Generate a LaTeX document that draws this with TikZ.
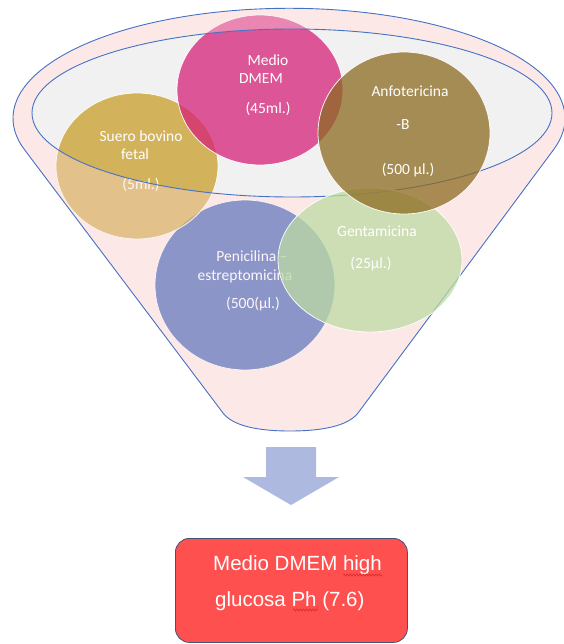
\documentclass[tikz,border=0pt]{standalone}
\usepackage{fontspec}
\newfontfamily\calib{Carlito}
\newfontfamily\arialf{Liberation Sans}
\usetikzlibrary{shapes.geometric,decorations.pathmorphing}
\definecolor{funblue}{RGB}{68,114,196}
\definecolor{funpink}{RGB}{253,232,232}
\definecolor{fungray}{RGB}{241,241,241}
\definecolor{cDmem}{RGB}{213,33,120}
\definecolor{cSuero}{RGB}{200,157,40}
\definecolor{cPen}{RGB}{21,64,166}
\definecolor{cGent}{RGB}{189,219,163}
\definecolor{cAnfo}{RGB}{140,107,33}
\definecolor{arrowblue}{RGB}{173,185,222}
\definecolor{boxred}{RGB}{255,80,80}
\definecolor{boxedge}{RGB}{68,84,120}
\definecolor{spellred}{RGB}{220,40,40}
\begin{document}
\begin{tikzpicture}[x=1pt,y=-1pt,
  bubble/.style={ellipse, inner sep=0pt, outer sep=0pt, draw=white, line width=0.8pt, fill opacity=0.75, draw opacity=0.9},
  lbl/.style={anchor=base, text=white, font=\calib\fontsize{15.5}{18}\selectfont, inner sep=0pt},
  boxlbl/.style={anchor=base west, text=white, font=\arialf\fontsize{20.5}{24}\selectfont, inner sep=0pt},
  rim/.style={draw=funblue, line width=0.9pt},
  spell/.style={draw=spellred, line width=0.6pt, decorate, decoration={snake, amplitude=1.1pt, segment length=3.2pt}}]
\useasboundingbox (0,0) rectangle (563,644);
% funnel base
\fill[funpink] (24,149) arc[start angle=163.8, end angle=376.2, x radius=276, y radius=110]
  -- (358,413) .. controls (348,426) and (322,431) .. (290,431)
  .. controls (258,431) and (233,426) .. (223,413) -- cycle;
\fill[fungray] (292,113) ellipse[x radius=260, y radius=84];
% circles behind the funnel front
\node[bubble, fill=cPen, minimum width=180pt, minimum height=170pt] (pen) at (245,285) {};
\node[lbl] (pen1) at (252,261.5) {Penicilina –};
\node[lbl] (pen2) at (245,280.5) {estreptomicina};
\node[lbl] (pen3) at (253,308.5) {(500(µl.)};
\node[bubble, fill=cSuero, minimum width=162pt, minimum height=146pt] (suero) at (137,166) {};
\node[lbl] (suero1) at (141,141.5) {Suero bovino};
\node[lbl] (suero2) at (135,159.5) {fetal};
\node[lbl] (suero3) at (141,189.5) {(5ml.)};
\node[bubble, fill=cDmem, minimum width=166pt, minimum height=150pt] (dmem) at (260,90) {};
\node[lbl] (dmem1) at (268,65.5) {Medio};
\node[lbl] (dmem2) at (261,83.5) {DMEM};
\node[lbl] (dmem3) at (268,113.5) {(45ml.)};
% funnel front overlay
\fill[funpink, fill opacity=0.35, even odd rule] (24,149) arc[start angle=163.8, end angle=376.2, x radius=276, y radius=110]
  -- (358,413) .. controls (348,426) and (322,431) .. (290,431)
  .. controls (258,431) and (233,426) .. (223,413) -- cycle
  (292,113) ellipse[x radius=260, y radius=84];
\draw[rim] (24,149) arc[start angle=163.8, end angle=376.2, x radius=276, y radius=110]
  -- (358,413) .. controls (348,426) and (322,431) .. (290,431)
  .. controls (258,431) and (233,426) .. (223,413) -- cycle;
\draw[rim] (292,113) ellipse[x radius=260, y radius=84];
% circles in front
\node[bubble, fill=cGent, minimum width=184pt, minimum height=144pt] (gent) at (370,260) {};
\node[lbl] (gent1) at (377,236.5) {Gentamicina};
\node[lbl] (gent2) at (371,268.5) {(25µl.)};
\node[bubble, fill=cAnfo, minimum width=172pt, minimum height=162pt] (anfo) at (404,133) {};
\node[lbl] (anfo1) at (410,96.5) {Anfotericina};
\node[lbl] (anfo2) at (403,129.5) {-B};
\node[lbl] (anfo3) at (408,174.5) {(500 µl.)};
% block arrow
\fill[arrowblue] (266,447) -- (316,447) -- (316,477) -- (339,477) -- (291,505) -- (243,477) -- (266,477) -- cycle;
% result box
\node[draw=boxedge, line width=0.8pt, fill=boxred, rounded corners=14pt, minimum width=232pt, minimum height=104pt, inner sep=0pt, anchor=north west] (result) at (175,538) {};
\node[boxlbl] (res1) at (213,570) {Medio DMEM high};
\node[boxlbl] (res2) at (215,606) {glucosa Ph (7.6)};
\coordinate (u1a) at (343,575);
\coordinate (u1b) at (382,575);
\coordinate (u2a) at (293,610);
\coordinate (u2b) at (318,610);
\draw[spell] (u1a) -- (u1b);
\draw[spell] (u2a) -- (u2b);
\end{tikzpicture}
\end{document}
